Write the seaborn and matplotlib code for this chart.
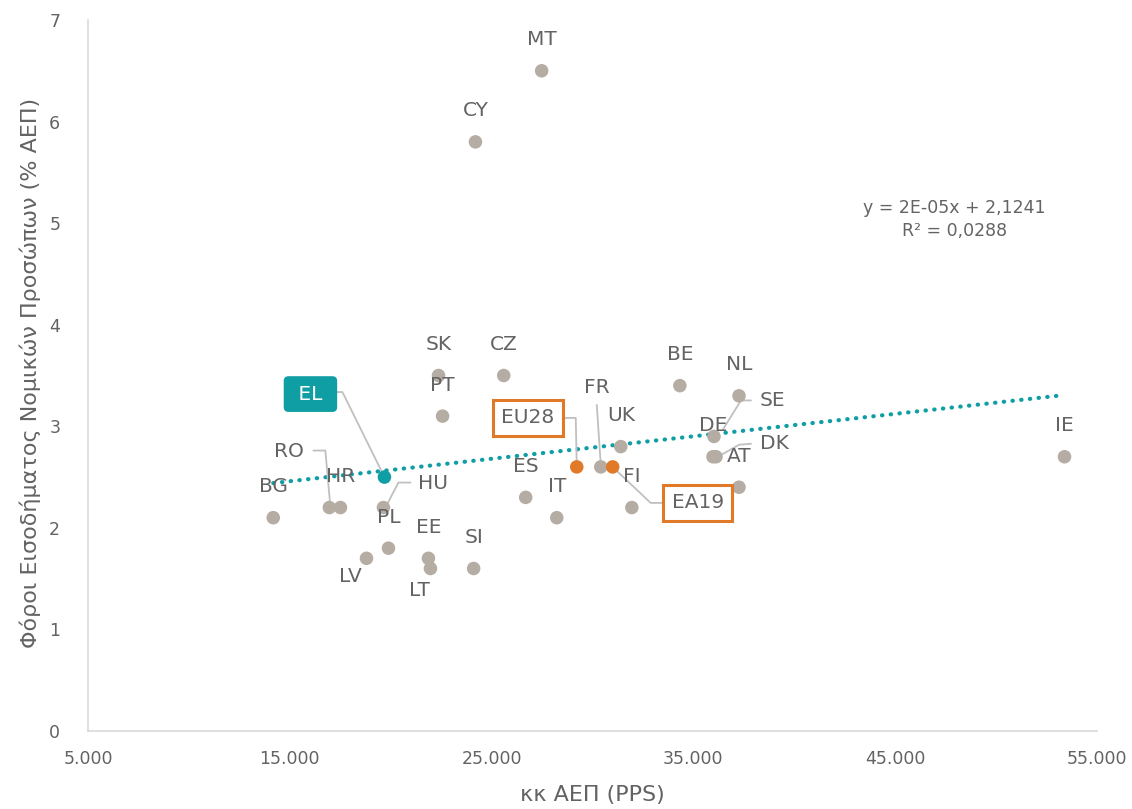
import numpy as np
import pandas as pd
import seaborn as sns
import matplotlib.pyplot as plt
from matplotlib.ticker import FuncFormatter, FixedLocator, MultipleLocator
from matplotlib.transforms import IdentityTransform

# data
countries = ["BG", "RO", "HR", "EL", "HU", "PL", "LV", "EE", "LT", "SI",
             "PT", "SK", "CY", "CZ", "MT", "ES", "IT", "EU28", "FR", "EA19",
             "UK", "FI", "BE", "SE", "DE", "DK", "NL", "AT", "IE"]
gdp_pps = [14180, 16960, 17510, 19690, 19640, 19890, 18800, 21870, 21970, 24110,
           22570, 22370, 24200, 25600, 27480, 26690, 28230, 29220, 30410, 31000,
           31400, 31950, 34330, 36020, 35970, 36120, 37260, 37260, 53390]
cit_pct = [2.1, 2.2, 2.2, 2.5, 2.2, 1.8, 1.7, 1.7, 1.6, 1.6,
           3.1, 3.5, 5.8, 3.5, 6.5, 2.3, 2.1, 2.6, 2.6, 2.6,
           2.8, 2.2, 3.4, 2.9, 2.7, 2.7, 3.3, 2.4, 2.7]
x_ticks = [5000, 15000, 25000, 35000, 45000, 55000]

trend_text = "y = 2E-05x + 2,1241\nR² = 0,0288"

df = pd.DataFrame({"country": countries, "gdp": gdp_pps, "cit": cit_pct})
df["group"] = "other"
df.loc[df["country"] == "EL", "group"] = "EL"
df.loc[df["country"].isin(["EU28", "EA19"]), "group"] = "avg"

GRAY = "#b5ada4"
TEAL = "#0e9ea4"
ORANGE = "#e07a28"
TXT = "#636363"
LINE = "#c0c0c0"

sns.set_style("white")
plt.rcParams["font.family"] = ["DejaVu Sans"]

fig = plt.figure(figsize=(11.32, 8.09), dpi=100)
ax = fig.add_axes([88 / 1132, (809 - 731) / 809, 1009 / 1132, 711 / 809])

# trendline (least squares on the series)
slope, intercept = np.polyfit(df["gdp"], df["cit"], 1)
tx = np.array([df["gdp"].min(), df["gdp"].max()])
ax.plot(tx, slope * tx + intercept, color=TEAL, lw=3,
        linestyle=(0, (0.1, 2)), dash_capstyle="round", zorder=1)

sns.scatterplot(data=df, x="gdp", y="cit", hue="group",
                palette={"other": GRAY, "EL": TEAL, "avg": ORANGE},
                s=95, edgecolor="none", legend=False, ax=ax, zorder=3)

ax.set_xlim(5000, 55000)
ax.set_ylim(0, 7)
ax.xaxis.set_major_locator(FixedLocator(x_ticks))
ax.yaxis.set_major_locator(MultipleLocator(1))
ax.xaxis.set_major_formatter(FuncFormatter(lambda v, p: f"{int(v):,}".replace(",", ".")))
ax.tick_params(axis="both", length=0, labelsize=12.5, labelcolor=TXT)
ax.tick_params(axis="x", pad=14)
ax.tick_params(axis="y", pad=20)
for side in ["top", "right"]:
    ax.spines[side].set_visible(False)
for side in ["left", "bottom"]:
    ax.spines[side].set_color("#d9d9d9")
    ax.spines[side].set_linewidth(1.2)

ax.set_xlabel("κκ ΑΕΠ (PPS)", fontsize=16, color=TXT)
ax.set_ylabel("Φόροι Εισοδήματος Νομικών Προσώπων (% ΑΕΠ)", fontsize=16, color=TXT)
ax.xaxis.set_label_coords(0.5, -0.076)
ax.yaxis.set_label_coords(-0.047, 0.503)

# label offsets in pixels from each point (default: above)
label_off = {"FR": (-4, 79), "SE": (58, 36), "DK": (58, 13), "RO": (-40, 56),
             "HU": (50, 24), "LV": (-16, -18), "LT": (-11, -22),
             "EL": (-74, 83), "EU28": (-49, 49), "EA19": (85, -36)}
leaders = {"EL": [(0, 0), (-42, 85), (-52, 85)],
           "RO": [(1, 1), (-4, 57), (-16, 57)],
           "HU": [(2, 0), (15, 25), (27, 25)],
           "EU28": [(0, 0), (-1, 49), (-14, 49)],
           "FR": [(0, 2), (-4, 62)],
           "EA19": [(1, -1), (38, -36), (50, -36)],
           "SE": [(9, 7), (27, 36), (37, 36)],
           "DK": [(2, 0), (23, 12), (35, 13)]}

fig.canvas.draw()
for _, row in df.iterrows():
    c = row["country"]
    px, py = ax.transData.transform((row["gdp"], row["cit"]))
    if c in leaders:
        pts = np.array(leaders[c], dtype=float) + [px, py]
        ax.plot(pts[:, 0], pts[:, 1], color=LINE, lw=1.3,
                transform=IdentityTransform(), zorder=2, clip_on=False)
    dx, dy = label_off.get(c, (0, 31))
    kw = dict(fontsize=14.5, color=TXT, ha="center", va="center")
    text = c
    if c == "EL":
        text = f" {c} "
        kw.update(color="white", bbox=dict(boxstyle="round,pad=0.38,rounding_size=0.2",
                                           fc=TEAL, ec=TEAL, lw=1))
    elif c in ("EU28", "EA19"):
        kw.update(bbox=dict(boxstyle="square,pad=0.42", fc="white",
                            ec=ORANGE, lw=2.2))
    ax.annotate(text, (row["gdp"], row["cit"]), xytext=(dx, dy),
                textcoords="offset pixels", zorder=4, **kw)

ax.text(0.859, 0.72, trend_text, transform=ax.transAxes, ha="center",
        va="center", fontsize=12.5, color=TXT, linespacing=1.35)

fig.savefig("out.png", dpi=100)
